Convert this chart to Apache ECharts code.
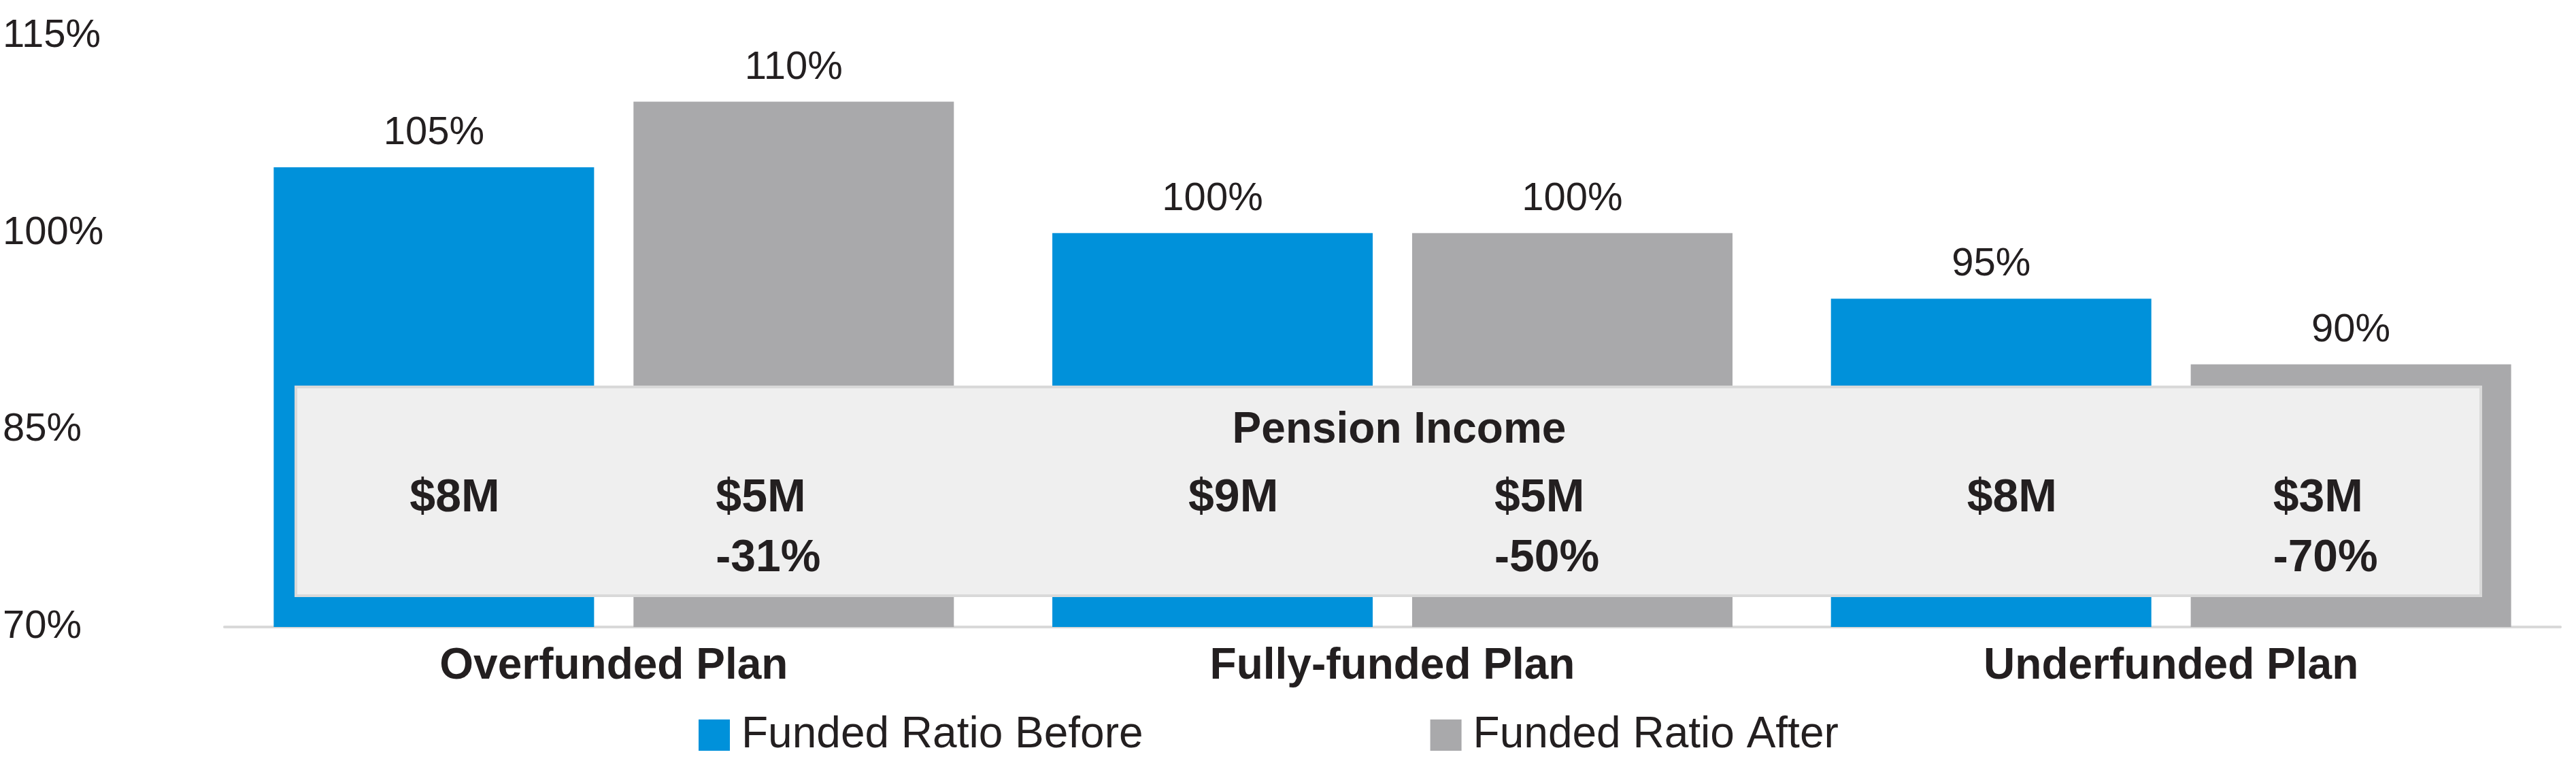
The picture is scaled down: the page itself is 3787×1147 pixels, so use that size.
<!DOCTYPE html>
<html>
<head>
<meta charset="utf-8">
<title>Funded Ratio Before / After</title>
<script src="https://cdn.jsdelivr.net/npm/echarts@6.0.0/dist/echarts.min.js"></script>
<style>
  html, body { margin: 0; padding: 0; background: #fff; }
  #chart { width: 3787px; height: 1147px; }
</style>
</head>
<body>
<div id="chart"></div>
<script>
// 数据
const categories = ['Overfunded Plan', 'Fully-funded Plan', 'Underfunded Plan']
const ratioBefore = [105, 100, 95]
const ratioAfter = [110, 100, 90]
const yTicks = [70, 85, 100, 115]
// Pension Income 框里的数字
const incomeBefore = ['$8M', '$9M', '$8M']
const incomeAfter = ['$5M', '$5M', '$3M']
const incomeChange = ['-31%', '-50%', '-70%']

const FONT = '"Liberation Sans", Arial, sans-serif'
const TEXT = '#231f20'
const BLUE = '#0091da'
const GREY = '#a9a9ab'

const myChart = echarts.init(document.getElementById('chart'))

const option = {
  animation: false,
  backgroundColor: '#fff',
  grid: {
    left: 330,
    right: 23,
    top: 53,
    bottom: 225
  },
  legend: {
    data: ['Funded Ratio Before', 'Funded Ratio After'],
    left: 1022,
    top: 1044,
    icon: 'rect',
    itemWidth: 46,
    itemHeight: 46,
    itemGap: 422,
    selectedMode: false,
    textStyle: {
      color: TEXT,
      fontFamily: FONT,
      fontSize: 64,
      padding: [0, 0, 0, 12]
    }
  },
  xAxis: {
    type: 'category',
    data: categories,
    axisLine: {
      show: true,
      lineStyle: { color: '#d9d9d9', width: 4 }
    },
    axisTick: { show: false },
    axisLabel: {
      color: TEXT,
      fontFamily: FONT,
      fontWeight: 'bold',
      fontSize: 64,
      margin: 26
    }
  },
  yAxis: {
    type: 'value',
    min: 70,
    max: 115,
    axisLine: { show: false },
    axisTick: { show: false },
    splitLine: { show: false },
    axisLabel: {
      customValues: yTicks,
      formatter: '{value}%',
      color: TEXT,
      fontFamily: FONT,
      fontSize: 58,
      align: 'left',
      margin: 326
    }
  },
  series: [
    {
      name: 'Funded Ratio Before',
      type: 'bar',
      color: BLUE,
      barWidth: 471,
      barGap: '12.3%',
      label: {
        show: true,
        position: 'top',
        distance: 21,
        formatter: '{c}%',
        color: TEXT,
        fontFamily: FONT,
        fontSize: 58
      },
      data: ratioBefore
    },
    {
      name: 'Funded Ratio After',
      type: 'bar',
      color: GREY,
      barWidth: 471,
      label: {
        show: true,
        position: 'top',
        distance: 21,
        formatter: '{c}%',
        color: TEXT,
        fontFamily: FONT,
        fontSize: 58
      },
      data: ratioAfter
    }
  ]
}

myChart.setOption(option)

/**
 * 叠加 Pension Income 灰框
 */
function boxText(text, x, y, align, size) {
  return {
    type: 'text',
    z: 101,
    style: {
      text: text,
      x: x,
      y: y,
      align: align,
      verticalAlign: 'middle',
      fill: TEXT,
      font: 'bold ' + size + 'px ' + FONT
    }
  }
}

const elements = [
  {
    type: 'rect',
    z: 100,
    shape: { x: 435, y: 569, width: 3212, height: 307 },
    style: { fill: '#efefef', stroke: '#d9d9d9', lineWidth: 4 }
  }
]
const mid = (myChart.convertToPixel({ xAxisIndex: 0 }, 0) + myChart.convertToPixel({ xAxisIndex: 0 }, 2)) / 2
elements.push(boxText('Pension Income', mid + 10, 633, 'center', 64))
categories.forEach((c, i) => {
  const cx = myChart.convertToPixel({ xAxisIndex: 0 }, i)
  elements.push(boxText(incomeBefore[i], cx - 300, 733, 'left', 68))
  elements.push(boxText(incomeAfter[i], cx + 150, 733, 'left', 68))
  elements.push(boxText(incomeChange[i], cx + 150, 822, 'left', 66))
})
myChart.setOption({ graphic: { elements: elements } })
</script>
</body>
</html>
